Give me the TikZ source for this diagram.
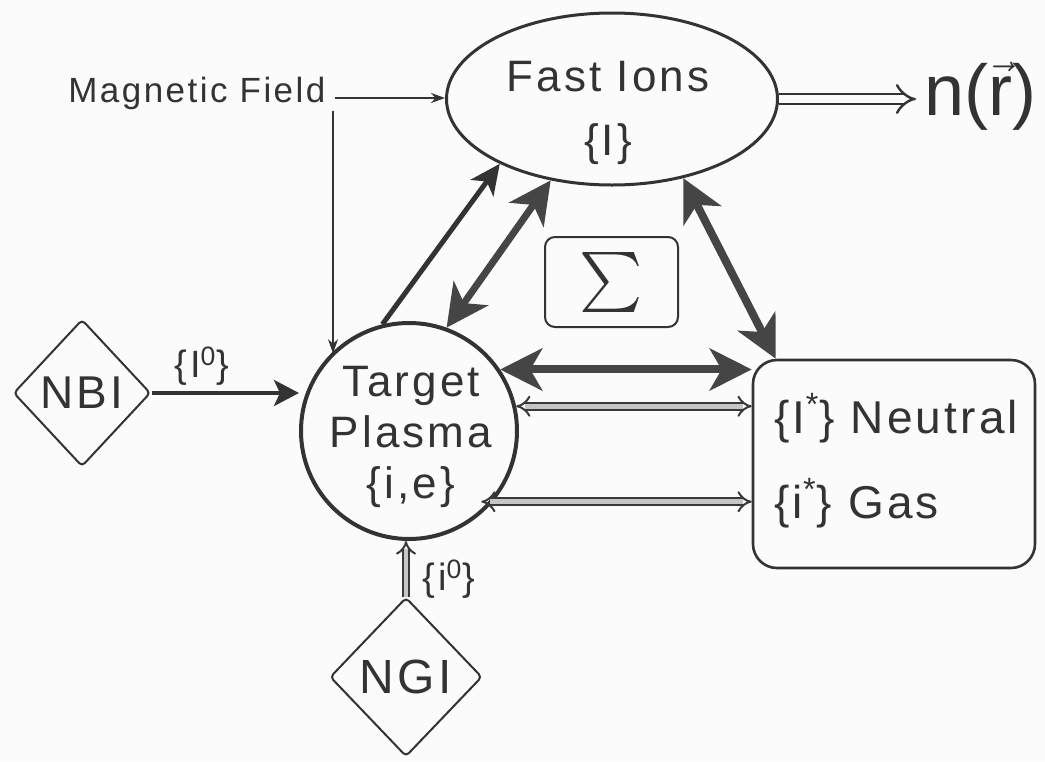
\documentclass[tikz,border=0pt]{standalone}
\usepackage{fontspec}
\usepackage{graphicx}
\setmainfont{Liberation Sans}[LetterSpace=7]
\newfontfamily\nrfont{Liberation Sans}
\usetikzlibrary{arrows.meta,shapes.geometric,calc}
\definecolor{ink}{gray}{0.2}
\definecolor{inkb}{gray}{0.27}
\definecolor{paper}{gray}{0.985}
\begin{document}
\begin{tikzpicture}[x=0.5pt,y=-0.5pt,
  lbl/.style={font=\fontsize{22}{25.5}\selectfont, text=ink, align=center, inner sep=0},
  dia/.style={draw=ink, line width=1pt, diamond, inner sep=0, rounded corners=2pt, text=ink},
  thinarr/.style={draw=ink, line width=1pt, -{Stealth[length=7pt,width=5pt]}},
  nbiarr/.style={draw=ink, line width=2pt, -{Stealth[length=12.5pt,width=13pt,inset=3pt]}},
  onearr/.style={draw=ink, line width=2.5pt, -{Stealth[length=15pt,width=14pt,inset=4pt]}},
  botharr/.style={draw=inkb, line width=4pt, {Stealth[length=21pt,width=21pt,inset=6pt]}-{Stealth[length=21pt,width=21pt,inset=6pt]}},
  gdbl/.style={draw=gray!45!black, double=gray!45, line width=1pt, double distance=2.6pt, {Implies}-{Implies}},
  small/.style={font=\fontsize{19}{19}\selectfont, text=ink, inner sep=0}
]
\useasboundingbox (0,0) rectangle (1045,761);
\fill[paper] (0,0) rectangle (1045,761);

% nodes
\node[draw=ink, line width=1.5pt, ellipse, minimum width=165.5pt, minimum height=86pt, inner sep=0] (fi) at (612,99) {};
\node[lbl, font=\fontsize{22}{32}\selectfont] (fit) at (608,113) {Fast Ions\\\{I\}};

\node[draw=ink, line width=2pt, circle, minimum size=108pt, inner sep=0] (tp) at (409,431) {};
\node[lbl] (tpt) at (411,437) {Target\\Plasma\\\{i,e\}};

\node[draw=ink, line width=1.3pt, rounded corners=12pt, minimum width=141pt, minimum height=104pt, inner sep=0] (ng) at (894,464) {};
\node[lbl, align=left, font=\fontsize{23}{42.5}\selectfont, anchor=west] (ngt) at (774,461) {\{I\textsuperscript{*}\} Neutral\\\{i\textsuperscript{*}\} Gas};

\node[draw=ink, line width=1pt, rounded corners=5pt, minimum width=66.5pt, minimum height=45pt, inner sep=0, text=ink] (sig) at (611.5,282) {\scalebox{3}{$\sum$}};

\node[dia, minimum width=68.5pt, minimum height=73.5pt, font=\fontsize{23}{23}\selectfont] (nbi) at (82,393) {NBI};
\node[dia, minimum width=76pt, minimum height=79.5pt, font=\fontsize{24}{24}\selectfont] (ngi) at (406,677) {NGI};

\node[font=\fontsize{17.5}{20}\selectfont, text=ink, inner sep=0, anchor=base west] (mf) at (68,102) {Magnetic Field};
\node[font=\nrfont\fontsize{36}{36}\selectfont, text=ink, inner sep=0, anchor=base west] (nr) at (924,115) {n($\vec{\hbox{r}}$)};

\node[small] (l1) at (202,366) {\{I\textsuperscript{0}\}};
\node[small] (l2) at (449,579) {\{i\textsuperscript{0}\}};

% connectors
\coordinate (mfj) at (335,98);
\coordinate (mfv) at (333,111);
\draw[thinarr] (mfj) -- (mfj -| fi.west);
\draw[thinarr] (mfv) -- (mfv |- tp.135);

\draw[draw=ink, double=paper, line width=1.2pt, double distance=4pt, -{Implies}, shorten >=4pt] (fi.east) -- (fi.east -| nr.west);

\draw[onearr] (tp.104) -- (fi.210);
\draw[botharr, line width=3.5pt] (tp.70) -- (fi.233);
\draw[botharr] (fi.312) -- ([xshift=12pt]ng.north west);
\draw[botharr] (tp.34) -- (tp.34 -| ng.west);
\draw[gdbl] (tp.13) -- (tp.13 -| ng.west);
\draw[gdbl, shorten <=-6pt] (tp.-40) -- (tp.-40 -| ng.west);

\draw[nbiarr] (nbi.east) -- (nbi.east -| tp.west);
\draw[draw=gray!45!black, double=gray!45, line width=1pt, double distance=2.4pt, -{Implies}] (ngi.north) -- (ngi.north |- tp.south);
\end{tikzpicture}
\end{document}
